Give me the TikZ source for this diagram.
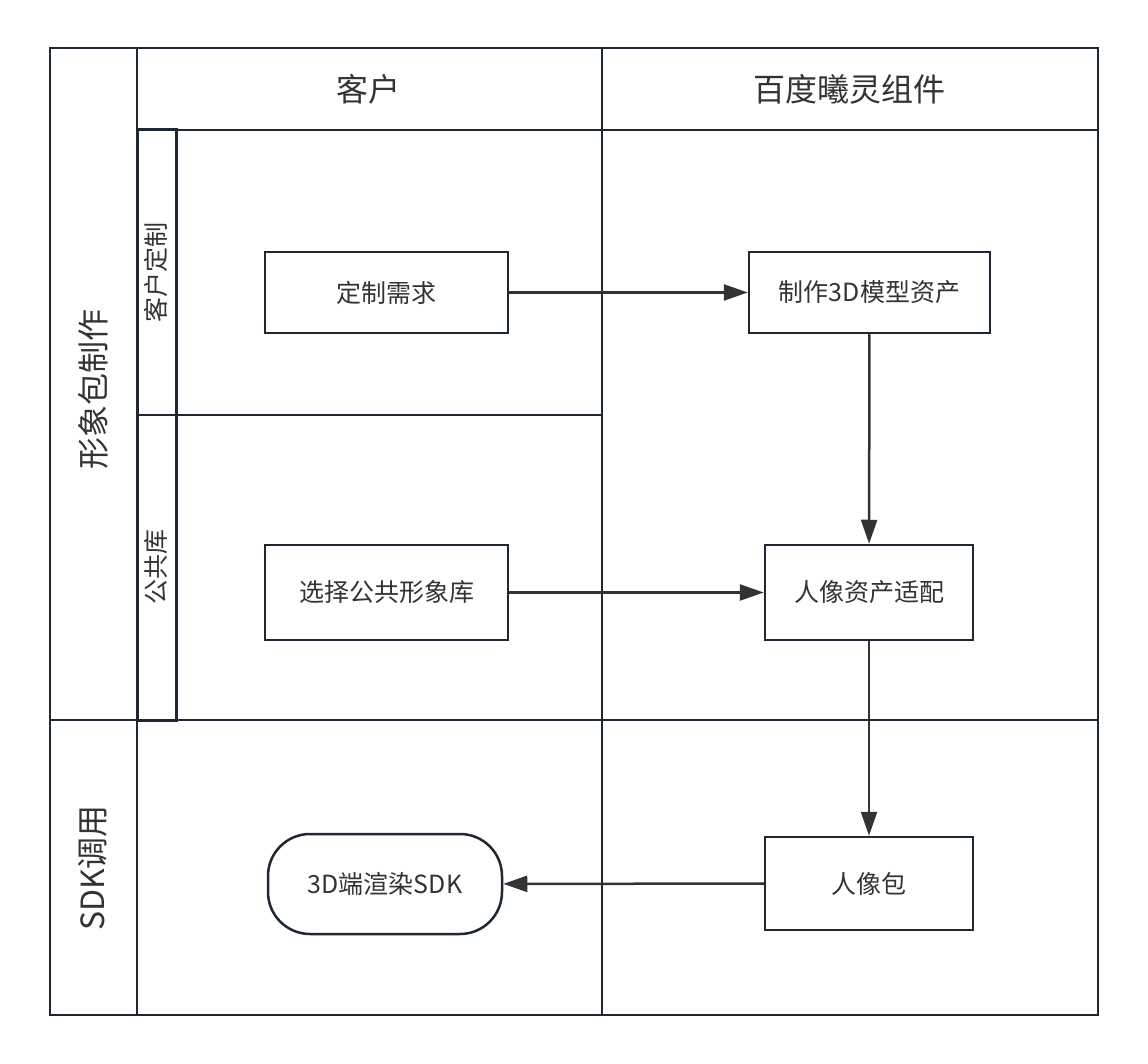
\documentclass[tikz,border=0pt]{standalone}
\usepackage{fontspec}
\setmainfont{Noto Sans CJK SC}
\usetikzlibrary{arrows.meta, positioning}
\definecolor{laneline}{RGB}{30, 40, 50}
\definecolor{textgray}{RGB}{51, 51, 51}

\begin{document}
\begin{tikzpicture}[x=1pt, y=-1pt,
    lane/.style={draw=laneline, line width=2.5pt},
    sublane/.style={draw=laneline, line width=3pt},
    stepbox/.style={draw=laneline, line width=2.5pt, text=textgray, font=\fontsize{25}{30}\selectfont, inner sep=0pt},
    endbox/.style={stepbox, rounded corners=42pt},
    flow/.style={draw=textgray, line width=2.5pt, -{Triangle[length=24pt, width=16pt]}},
    title/.style={text=textgray, font=\fontsize{32}{36}\selectfont},
    subtitle/.style={text=textgray, font=\fontsize{25}{30}\selectfont, rotate=90}]
  \useasboundingbox (0,0) rectangle (1148,1064);

  % swimlane frame
  \draw[lane] (50,48) rectangle (1098,1015);
  \draw[lane] (137,48) -- (137,1015);
  \draw[lane] (602,48) -- (602,1015);
  \draw[lane] (137,130) -- (1098,130);
  \draw[lane] (50,720) -- (1098,720);
  \draw[lane] (137,415) -- (602,415);
  \draw[sublane] (137,130) rectangle (176,720);

  % lane titles
  \node[title] (client) at (368,89) {客户};
  \node[title] (baidu) at (849,89) {百度曦灵组件};
  \node[title, rotate=90] (make) at (93,389) {形象包制作};
  \node[title, rotate=90] (sdk) at (93,868) {SDK调用};
  \node[subtitle] (custom) at (156,273) {客户定制};
  \node[subtitle] (public) at (156,567) {公共库};

  % steps
  \node[stepbox, minimum width=243pt, minimum height=81pt] (need) at (386.5,292.5) {定制需求};
  \node[stepbox, minimum width=241pt, minimum height=81pt] (model) at (869.5,292.5) {制作3D模型资产};
  \node[stepbox, minimum width=243pt, minimum height=95pt] (choose) at (386.5,592.5) {选择公共形象库};
  \node[stepbox, minimum width=208pt, minimum height=95pt] (adapt) at (869,592.5) {人像资产适配};
  \node[stepbox, minimum width=208pt, minimum height=93pt] (pack) at (869,883.5) {人像包};
  \node[endbox, minimum width=234pt, minimum height=100pt] (render) at (385,884) {3D端渲染SDK};

  % flows
  \draw[flow] (need) -- (model);
  \draw[flow] (model) -- (adapt);
  \draw[flow] (choose) -- (adapt);
  \draw[flow] (adapt) -- (pack);
  \draw[flow] (pack) -- (render);
\end{tikzpicture}
\end{document}
